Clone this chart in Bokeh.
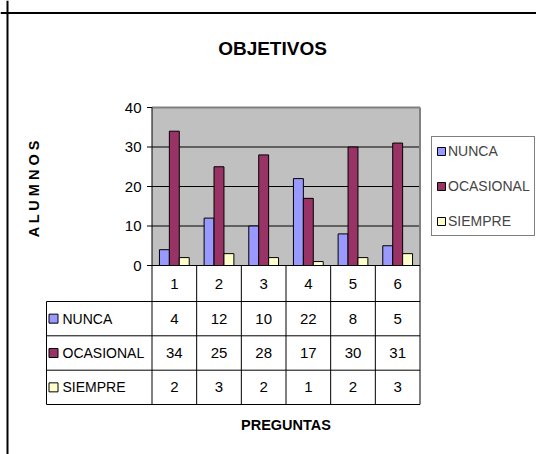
import numpy as np
from bokeh.plotting import figure
from bokeh.models import Range1d, Legend, LegendItem, Span
from bokeh.core.properties import value
from bokeh.embed import file_html
from bokeh.resources import INLINE

# ---------------- data ----------------
title = "OBJETIVOS"
y_title = "A L U M N O S"
x_title = "PREGUNTAS"
categories = ["1", "2", "3", "4", "5", "6"]
series_names = ["NUNCA", "OCASIONAL", "SIEMPRE"]
nunca = [4, 12, 10, 22, 8, 5]
ocasional = [34, 25, 28, 17, 30, 31]
siempre = [2, 3, 2, 1, 2, 3]
y_ticks = [0, 10, 20, 30, 40]
colors = ["#9999FF", "#993366", "#FFFFCC"]
series = [nunca, ocasional, siempre]

FONT = "Liberation Sans"
F = value(FONT)
FS = "14px"

# ---------------- geometry (page pixels) ----------------
W, H = 536, 454
PL, PR = 151.5, 419.5          # plot area left/right
Y0, YT = 265.0, 107.0          # value 0 and value max
YMAX = y_ticks[-1]
n = len(categories)
CW = (PR - PL) / n
PY = (Y0 - YT) / YMAX


def dx(px):
    return (px - PL) / CW


def dy(py):
    return (Y0 - py) / PY


p = figure(width=W, height=H,
           x_range=Range1d(dx(0), dx(W)), y_range=Range1d(dy(H), dy(0)),
           output_backend="svg", toolbar_location=None,
           x_axis_location=None, y_axis_location=None,
           min_border=0, outline_line_color=None,
           background_fill_color="white", border_fill_color="white")
p.xgrid.visible = False
p.ygrid.visible = False

# plot area background
p.quad(left=0, right=n, bottom=0, top=YMAX, fill_color="#C0C0C0", line_color=None)
# gridlines
inner = y_ticks[1:-1]
p.segment(x0=[0] * len(inner), x1=[n] * len(inner), y0=inner, y1=inner,
          line_color="black", line_width=1)
# plot area top / right border
p.segment(x0=[0, n], x1=[n, n], y0=[YMAX, 0], y1=[YMAX, YMAX],
          line_color="#808080", line_width=2)

# bars
bw = 1 / 4.5
renderers = []
for k, (vals, col) in enumerate(zip(series, colors)):
    xs = [i + 0.5 + (k - 1) * bw for i in range(n)]
    r = p.vbar(x=xs, top=vals, bottom=0, width=bw, fill_color=col,
               line_color="black", line_width=1)
    renderers.append(r)

# table geometry
row_edges = [301.0, 335.3, 369.7, 404.0]
TL = 46.0
tb = dy(row_edges[-1])

# axis line + category/table vertical lines
p.segment(x0=[0], x1=[0], y0=[YMAX], y1=[tb], line_color="black", line_width=1)
p.segment(x0=list(range(1, n + 1)), x1=list(range(1, n + 1)),
          y0=[0] * n, y1=[tb] * n, line_color="black", line_width=1)
p.segment(x0=[dx(TL)], x1=[dx(TL)], y0=[dy(row_edges[0])], y1=[tb],
          line_color="black", line_width=1)
# horizontal lines
p.segment(x0=[0], x1=[n], y0=[0], y1=[0], line_color="black", line_width=1)
p.segment(x0=[dx(TL)] * len(row_edges), x1=[n] * len(row_edges),
          y0=[dy(e) for e in row_edges], y1=[dy(e) for e in row_edges],
          line_color="black", line_width=1)

# y ticks and labels
p.segment(x0=[dx(PL - 5)] * len(y_ticks), x1=[0] * len(y_ticks), y0=y_ticks, y1=y_ticks,
          line_color="black", line_width=1)
p.text(x=[dx(141)] * len(y_ticks), y=y_ticks, text=[str(t) for t in y_ticks],
       text_font=F, text_font_size="15px", text_align="right", text_baseline="middle",
       text_color="black")

# table header (categories)
cx = [i + 0.5 for i in range(n)]
p.text(x=cx, y=[dy((Y0 + row_edges[0]) / 2)] * n, text=categories,
       text_font=F, text_font_size="15px", text_align="center", text_baseline="middle")

# table rows
for k, (name, vals, col) in enumerate(zip(series_names, series, colors)):
    yc = dy((row_edges[k] + row_edges[k + 1]) / 2)
    p.text(x=cx, y=[yc] * n, text=[str(v) for v in vals],
           text_font=F, text_font_size="15px", text_align="center", text_baseline="middle")
    p.scatter(x=[dx(53)], y=[yc], marker="square", size=9, fill_color=col,
              line_color="black", line_width=1)
    p.text(x=[dx(62)], y=[yc], text=[name], text_font=F, text_font_size=FS,
           text_align="left", text_baseline="middle")

# titles
p.text(x=[dx(272)], y=[dy(48)], text=[title], text_font=F, text_font_size="19px",
       text_font_style="bold", text_align="center", text_baseline="middle")
p.text(x=[dx(33)], y=[dy(188)], text=[y_title], text_font=F, text_font_size="14.5px",
       text_font_style="bold", text_align="center", text_baseline="middle", angle=np.pi / 2)
p.text(x=[dx(285.5)], y=[dy(424)], text=[x_title], text_font=F, text_font_size="14.5px",
       text_font_style="bold", text_align="center", text_baseline="middle")

# legend
legend = Legend(items=[LegendItem(label=nm, renderers=[r]) for nm, r in zip(series_names, renderers)],
                location=(431, H - 236), margin=0, padding=4, spacing=15,
                glyph_width=10, glyph_height=10, label_height=20, label_standoff=2,
                label_text_font=FONT, label_text_font_size=FS,
                border_line_color="black", border_line_width=1,
                background_fill_color="white", background_fill_alpha=1)
p.add_layout(legend)

# outer chart border (top and left)
p.add_layout(Span(location=dy(12.5), dimension="width", line_color="black", line_width=2))
p.add_layout(Span(location=dx(7), dimension="height", line_color="black", line_width=2))

open("out.html", "w").write(file_html(p, INLINE))
